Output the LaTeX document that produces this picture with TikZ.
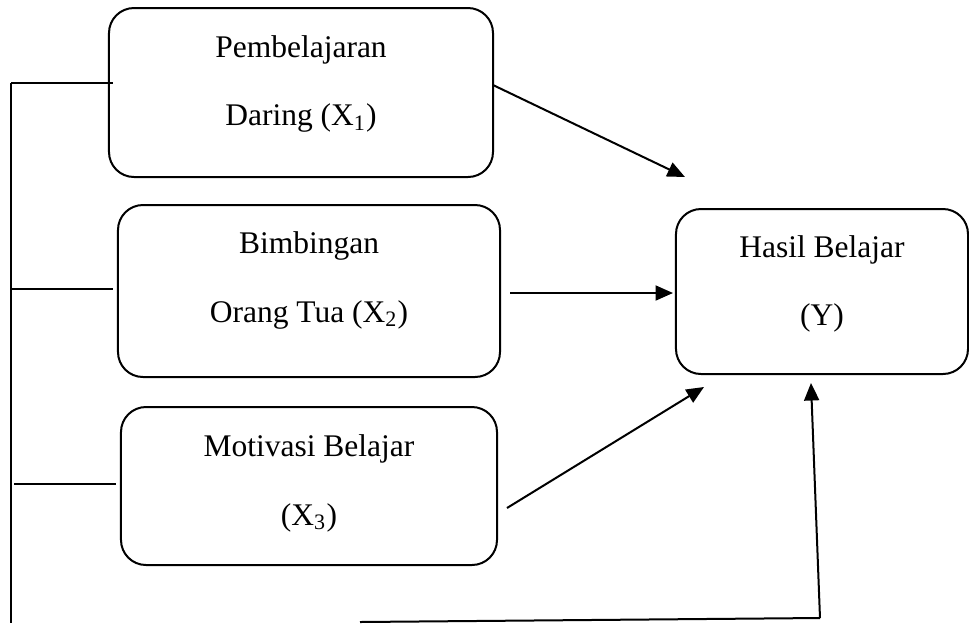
\documentclass[tikz,border=0pt]{standalone}
\usepackage{fontspec}
\setmainfont{Liberation Serif}
\usetikzlibrary{arrows.meta}
\tikzset{
  kotak/.style={draw, line width=0.8pt, rounded corners=10pt, inner sep=0pt},
  teks/.style={align=center, font=\fontsize{12.6}{27.4}\selectfont},
  garis/.style={line width=0.8pt},
  panah/.style={line width=0.8pt, -{Triangle[length=7pt,width=6pt]}}
}
\begin{document}
\begin{tikzpicture}[x=0.4pt,y=-0.4pt]
\useasboundingbox (0,0) rectangle (969,623);
\node (b1) [kotak, minimum width=153.6pt, minimum height=67.6pt] at (301,92.5) {};
\node (b2) [kotak, minimum width=152.8pt, minimum height=68.8pt] at (309,291) {};
\node (b3) [kotak, minimum width=150.4pt, minimum height=63.2pt] at (309,486) {};
\node (y) [kotak, minimum width=116.8pt, minimum height=66pt] at (822,291.5) {};
\node (t1) [teks] at ([yshift=3.4pt]b1.center) {Pembelajaran\\Daring (X\textsubscript{1})};
\node (t2) [teks] at ([yshift=4.2pt]b2.center) {Bimbingan\\Orang Tua (X\textsubscript{2})};
\node (t3) [teks] at ([yshift=1pt]b3.center) {Motivasi Belajar\\(X\textsubscript{3})};
\node (ty) [teks] at ([yshift=3pt]y.center) {Hasil Belajar\\(Y)};
\coordinate (k1) at (11,83);
\coordinate (k2) at (11,289);
\coordinate (k3) at (14,484);
\coordinate (k4) at (11,623);
\coordinate (e1) at (113,83);
\coordinate (e2) at (113,289);
\coordinate (e3) at (116,484);
\coordinate (s1) at (493,85);
\coordinate (s2) at (510,293);
\coordinate (s3) at (507,508);
\coordinate (s4) at (360,622);
\coordinate (s5) at (820,618);
\coordinate (p1) at (685,177);
\coordinate (p2) at (673,293);
\coordinate (p3) at (704,387);
\coordinate (p4) at (811,383);
\draw[garis] (k1) -- (k4);
\draw[garis] (k1) -- (e1);
\draw[garis] (k2) -- (e2);
\draw[garis] (k3) -- (e3);
\draw[panah] (s1) -- (p1);
\draw[panah] (s2) -- (p2);
\draw[panah] (s3) -- (p3);
\draw[garis] (s4) -- (s5);
\draw[panah] (s5) -- (p4);
\end{tikzpicture}
\end{document}
